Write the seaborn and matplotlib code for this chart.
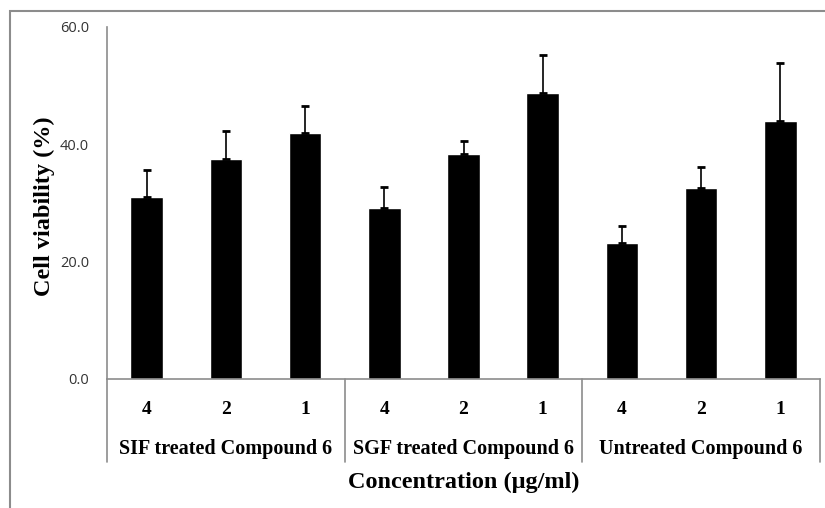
import matplotlib
matplotlib.use("Agg")
import matplotlib.pyplot as plt
import matplotlib.patches as mpatches
import matplotlib.transforms as mtransforms
import seaborn as sns
import pandas as pd

groups = ["SIF treated Compound 6", "SGF treated Compound 6", "Untreated Compound 6"]
concentrations = ["4", "2", "1"]
viability = [31.0, 37.5, 42.0, 29.1, 38.4, 48.7, 23.1, 32.6, 44.0]
errors = [4.6, 4.7, 4.6, 3.7, 2.2, 6.5, 3.0, 3.5, 9.9]
yticks = [0, 20, 40, 60]

labels = [f"{g}|{c}" for g in groups for c in concentrations]
df = pd.DataFrame({"pos": labels, "viability": viability})

sns.set_theme(style="white")
serif = ["Liberation Serif", "DejaVu Serif"]
sans = ["Open Sans", "DejaVu Sans"]

fig = plt.figure(figsize=(8.25, 5.08), dpi=100)
W, H = 825, 508
ax = fig.add_axes([107 / W, 1 - 379 / H, (820 - 107) / W, (379 - 27) / H])

sns.barplot(data=df, x="pos", y="viability", order=labels, color="black",
            width=0.41, errorbar=None, ax=ax, saturation=1)

# upward-only error bars, positioned from the drawn bars
xs = [p.get_x() + p.get_width() / 2 for p in ax.patches]
tops = [p.get_height() for p in ax.patches]
ax.errorbar(xs, tops, yerr=[[0] * len(errors), errors], fmt="none",
            ecolor="black", elinewidth=1.2, capsize=3.0, capthick=2.0)

ax.set_xlim(-0.5, len(labels) - 0.5)
ax.set_ylim(0, 60)
ax.set_yticks(yticks)
ax.set_yticklabels([f"{v:.1f}" for v in yticks], family=sans, fontsize=10.5,
                   color="#333333")
ax.set_xticks(range(len(labels)))
ax.set_xticklabels(concentrations * len(groups), family=serif, fontsize=14,
                   fontweight="bold", color="black")
ax.tick_params(axis="both", length=0)
ax.tick_params(axis="x", pad=16)
ax.tick_params(axis="y", pad=13)

for s in ["top", "right"]:
    ax.spines[s].set_visible(False)
for s in ["left", "bottom"]:
    ax.spines[s].set_color("#8c8c8c")
    ax.spines[s].set_linewidth(1.2)

trans = mtransforms.blended_transform_factory(ax.transData, ax.transAxes)
for i in range(len(groups) + 1):
    xsep = -0.5 + 3 * i
    ax.plot([xsep, xsep], [0, -83 / 352], color="#8c8c8c", lw=1.2,
            transform=trans, clip_on=False)
for i, g in enumerate(groups):
    ax.text(3 * i + 1, -70 / 352, g, transform=trans, ha="center", va="center",
            family=serif, fontsize=14.5, fontweight="bold", color="black")

ax.set_xlabel("")
ax.text(0.5 * (len(labels) - 1), -103 / 352, "Concentration (\u03bcg/ml)",
        transform=trans, ha="center", va="center", family=serif, fontsize=17.5,
        fontweight="bold", color="black")
ax.set_ylabel("Cell viability (%)", family=serif, fontsize=17.5,
              fontweight="bold", color="black", va="center")
ax.yaxis.set_label_coords(-(107 - 44) / 713, (379 - 206) / 352)

border = mpatches.Rectangle((10 / W, -0.2), 1.5, 1 - 11 / H + 0.2,
                            transform=fig.transFigure, fill=False,
                            edgecolor="#8c8c8c", lw=1.5, clip_on=False)
fig.patches.append(border)

fig.savefig("out.png", dpi=100)
